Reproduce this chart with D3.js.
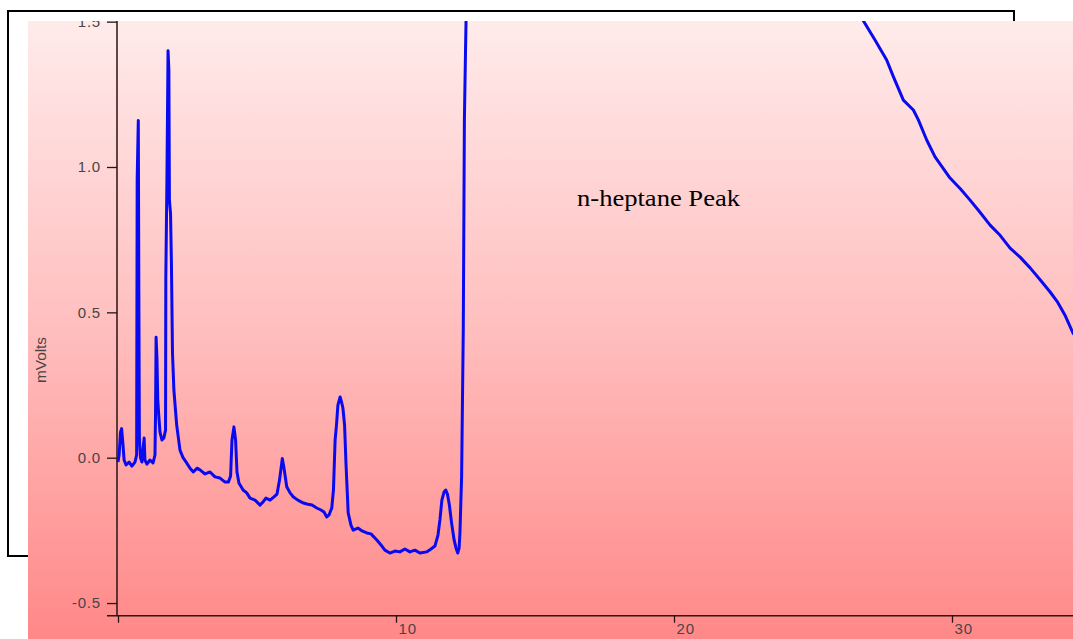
<!DOCTYPE html>
<html>
<head>
<meta charset="utf-8">
<script src="https://cdn.jsdelivr.net/npm/d3@7"></script>
<style>
  html, body { margin: 0; padding: 0; background: #ffffff; }
  svg { display: block; }
</style>
</head>
<body>
<svg id="chart" width="1073" height="639"></svg>
<script>
// Detector signal (mVolts) against retention time (minutes), early part of the run
const earlyTime = [
  0, 0.04, 0.09, 0.13, 0.18, 0.22, 0.29, 0.40, 0.50, 0.61, 0.67, 0.69, 0.73, 0.75, 0.77, 0.81,
  0.86, 0.94, 0.97, 1.04, 1.15, 1.26, 1.33, 1.35, 1.37, 1.40, 1.43, 1.46, 1.51, 1.58, 1.65, 1.71,
  1.72, 1.76, 1.80, 1.83, 1.85, 1.89, 1.92, 1.96, 2.01, 2.11, 2.23, 2.34, 2.47, 2.59, 2.71, 2.84,
  2.95, 3.13, 3.31, 3.49, 3.67, 3.85, 3.97, 4.05, 4.10, 4.17, 4.23, 4.28, 4.35, 4.50, 4.63, 4.75,
  4.93, 5.11, 5.22, 5.32, 5.47, 5.61, 5.72, 5.81, 5.91, 5.97, 6.07, 6.19, 6.31, 6.47, 6.67, 6.83,
  6.98, 7.15, 7.30, 7.41, 7.51, 7.59, 7.69, 7.75, 7.81, 7.86, 7.91, 7.99, 8.04, 8.09, 8.15, 8.20,
  8.28, 8.38, 8.46, 8.63, 8.78, 8.95, 9.10, 9.31, 9.46, 9.60, 9.78, 9.96, 10.14, 10.32, 10.50, 10.68,
  10.86, 11.10, 11.26, 11.40, 11.51, 11.58, 11.65, 11.73, 11.79, 11.85, 11.92, 12.00, 12.09, 12.16, 12.22, 12.27,
  12.30, 12.36, 12.42, 12.46, 12.50, 12.53
];
const earlySignal = [
  -0.015, 0.010, 0.088, 0.100, 0.044, -0.008, -0.025, -0.015, -0.029, -0.015, 0.009, 0.955, 1.160, 0.570, 0.061, 0.000,
  -0.015, 0.068, -0.008, -0.022, -0.008, -0.018, 0.009, 0.147, 0.414, 0.345, 0.199, 0.154, 0.088, 0.061, 0.068, 0.095,
  0.621, 0.955, 1.400, 1.333, 0.886, 0.840, 0.680, 0.360, 0.233, 0.113, 0.026, 0.000, -0.018, -0.036, -0.049, -0.036,
  -0.042, -0.056, -0.049, -0.066, -0.070, -0.084, -0.084, -0.063, 0.061, 0.106, 0.061, -0.049, -0.087, -0.111, -0.121, -0.139,
  -0.146, -0.163, -0.152, -0.139, -0.146, -0.135, -0.125, -0.077, -0.003, -0.035, -0.100, -0.121, -0.135, -0.146, -0.156, -0.160,
  -0.163, -0.173, -0.180, -0.187, -0.204, -0.197, -0.173, -0.111, 0.061, 0.113, 0.181, 0.209, 0.192, 0.171, 0.113, -0.018,
  -0.190, -0.232, -0.249, -0.242, -0.252, -0.259, -0.262, -0.283, -0.300, -0.318, -0.328, -0.321, -0.324, -0.314, -0.324, -0.318,
  -0.328, -0.324, -0.314, -0.304, -0.266, -0.214, -0.146, -0.118, -0.111, -0.125, -0.163, -0.225, -0.283, -0.311, -0.328, -0.311,
  -0.259, -0.066, 0.440, 1.160, 1.396, 1.560
];

// Falling tail of the n-heptane peak
const tailTime = [
  26.72, 26.81, 27.23, 27.65, 27.89, 28.25, 28.61, 28.79, 29.09, 29.39, 29.93, 30.30, 30.65,
  31.00, 31.37, 31.73, 32.09, 32.45, 32.81, 33.17, 33.53, 33.80, 34.06, 34.35, 34.60
];
const tailSignal = [
  1.560, 1.503, 1.437, 1.368, 1.311, 1.230, 1.196, 1.162, 1.093, 1.035, 0.962, 0.925, 0.886,
  0.845, 0.800, 0.765, 0.721, 0.690, 0.653, 0.612, 0.570, 0.535, 0.491, 0.429, 0.400
];

const yTickValues = [-0.5, 0.0, 0.5, 1.0, 1.5];
const xTickValues = [0, 10, 20, 30];
const yTitle = "mVolts";
const peakNote = "n-heptane Peak";

const svg = d3.select("#chart");
const W = 1073, H = 639;

// Panel geometry
const panel = { x: 28, y: 21, w: W - 28, h: H - 21 };
const plotLeft = 118, plotBottom = 615.7;

const x = d3.scaleLinear().domain([0, 35]).range([plotLeft, plotLeft + 35 * 27.8]);
const y = d3.scaleLinear().domain([0, 1]).range([457.7, 167]);

// Frame behind the panel
svg.append("rect")
  .attr("x", 8).attr("y", 11).attr("width", 1006).attr("height", 545)
  .attr("fill", "#ffffff").attr("stroke", "#000000").attr("stroke-width", 2);

const defs = svg.append("defs");
const grad = defs.append("linearGradient")
  .attr("id", "panelFill").attr("x1", 0).attr("y1", 0).attr("x2", 0).attr("y2", 1);
grad.append("stop").attr("offset", "0%").attr("stop-color", "#ffebeb");
grad.append("stop").attr("offset", "50%").attr("stop-color", "#ffbebe");
grad.append("stop").attr("offset", "100%").attr("stop-color", "#ff8888");

defs.append("clipPath").attr("id", "panelClip")
  .append("rect").attr("x", panel.x).attr("y", panel.y).attr("width", panel.w).attr("height", panel.h);

const g = svg.append("g").attr("clip-path", "url(#panelClip)");

g.append("rect")
  .attr("x", panel.x).attr("y", panel.y).attr("width", panel.w).attr("height", panel.h)
  .attr("fill", "url(#panelFill)");

const axisColor = "#2a1212";
const labelColor = "#4a4444";
const tickFont = "'Liberation Sans', Arial, sans-serif";
const fmt = d3.format(".1f");

// Y axis
const yAxis = d3.axisLeft(y)
  .tickValues(yTickValues)
  .tickFormat(d => fmt(d).replace("\u2212", "-"))
  .tickSize(10)
  .tickSizeOuter(0)
  .tickPadding(6);
const yg = g.append("g").attr("transform", `translate(${plotLeft - 1},0)`).call(yAxis);
yg.select(".domain").remove();
yg.selectAll(".tick line").attr("stroke", axisColor).attr("stroke-width", 1.3);
yg.selectAll(".tick text")
  .attr("fill", labelColor).attr("font-family", tickFont).attr("font-size", 15)
  .attr("letter-spacing", 0.8);

g.append("line")
  .attr("x1", plotLeft - 1).attr("x2", plotLeft - 1)
  .attr("y1", panel.y).attr("y2", plotBottom)
  .attr("stroke", axisColor).attr("stroke-width", 1.5);

// X axis
const xAxis = d3.axisBottom(x)
  .tickValues(xTickValues)
  .tickFormat(d => d === 0 ? "" : d)
  .tickSize(7)
  .tickSizeOuter(0);
const xg = g.append("g").attr("transform", `translate(0,${plotBottom})`).call(xAxis);
xg.select(".domain").remove();
xg.selectAll(".tick line").attr("stroke", axisColor).attr("stroke-width", 1.3);
xg.selectAll(".tick text")
  .attr("text-anchor", "start").attr("x", 2).attr("y", 8).attr("dy", "0.71em")
  .attr("fill", labelColor).attr("font-family", tickFont).attr("font-size", 15)
  .attr("letter-spacing", 0.8);

g.append("line")
  .attr("x1", 107).attr("x2", W)
  .attr("y1", plotBottom).attr("y2", plotBottom)
  .attr("stroke", axisColor).attr("stroke-width", 1.5);

// Axis title
g.append("text")
  .attr("transform", "translate(46,360) rotate(-90)")
  .attr("text-anchor", "middle")
  .attr("font-family", tickFont).attr("font-size", 15)
  .attr("fill", labelColor)
  .attr("textLength", 46).attr("lengthAdjust", "spacingAndGlyphs")
  .text(yTitle);

// Trace
const line = d3.line().x(d => x(d[0])).y(d => y(d[1]));
const trace = g.append("g").attr("clip-path", "url(#panelClip)");
[[earlyTime, earlySignal], [tailTime, tailSignal]].forEach(([ts, vs]) => {
  trace.append("path")
    .datum(ts.map((t, i) => [t, vs[i]]))
    .attr("d", line)
    .attr("fill", "none")
    .attr("stroke", "#0a0af0")
    .attr("stroke-width", 3)
    .attr("stroke-linejoin", "round");
});

// Annotation
g.append("text")
  .attr("x", 577).attr("y", 206)
  .attr("font-family", "'Liberation Serif', 'Times New Roman', serif")
  .attr("font-size", 23)
  .attr("fill", "#000000")
  .attr("textLength", 163).attr("lengthAdjust", "spacingAndGlyphs")
  .text(peakNote);
</script>
</body>
</html>
